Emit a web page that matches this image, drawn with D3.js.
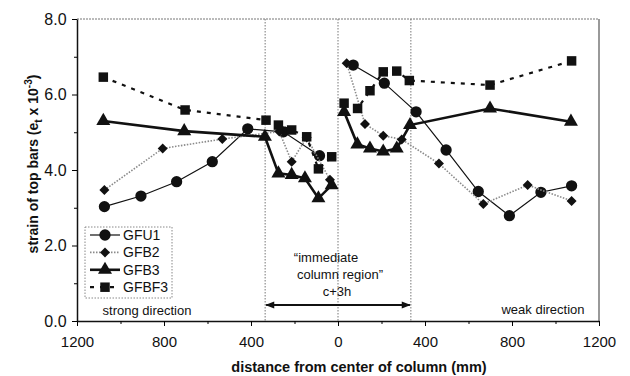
<!DOCTYPE html>
<html>
<head>
<meta charset="utf-8">
<script src="https://cdn.jsdelivr.net/npm/d3@7"></script>
<style>
  body { margin: 0; background: #fff; }
  text { font-family: Arial, "Liberation Sans", sans-serif; fill: #111; }
</style>
</head>
<body>
<svg width="630" height="376"></svg>
<script>
// distance from column centre (mm): negative = strong direction, positive = weak direction
var gfu1X = [-1074, -906, -742, -578, -415, -251, -85, 70, 213, 359, 497, 645, 788, 933, 1074];
var gfu1Y = [3.03, 3.31, 3.69, 4.22, 5.09, 5.01, 4.38, 6.78, 6.30, 5.54, 4.53, 3.43, 2.79, 3.41, 3.58];

var gfb2X = [-1074, -806, -532, -270, -213, -144, -37, 40, 124, 208, 293, 464, 668, 872, 1074];
var gfb2Y = [3.47, 4.57, 4.82, 5.02, 4.22, 4.86, 3.74, 6.83, 5.22, 4.91, 4.81, 4.17, 3.10, 3.60, 3.18];

var gfb3X = [-1079, -707, -336, -274, -213, -152, -90, -29, 28, 89, 147, 208, 270, 331, 699, 1071];
var gfb3Y = [5.30, 5.03, 4.88, 3.91, 3.87, 3.78, 3.25, 3.60, 5.54, 4.68, 4.57, 4.49, 4.57, 5.19, 5.63, 5.28];

var gfbf3X = [-1079, -703, -331, -274, -213, -144, -90, -29, 28, 90, 147, 208, 270, 328, 699, 1074];
var gfbf3Y = [6.46, 5.59, 5.32, 5.19, 5.06, 4.88, 4.03, 4.35, 5.77, 5.63, 6.10, 6.60, 6.62, 6.37, 6.25, 6.89];

var seriesNames = ["GFU1", "GFB2", "GFB3", "GFBF3"];
var xMajor = [-1200, -800, -400, 0, 400, 800, 1200];
var xMinor = [-1000, -600, -200, 200, 600, 1000];
var yMajor = [0, 2, 4, 6, 8];
var yMinor = [1, 3, 5, 7];
var regionEdges = [-335, 0, 335];

var svg = d3.select("svg");
var pL = 77, pR = 599, pT = 19, pB = 321;

var x = d3.scaleLinear().domain([-1200, 1200]).range([pL, pR]);
var y = d3.scaleLinear().domain([0, 8]).range([pB, pT]);

// frame
svg.append("line").attr("x1", pL).attr("x2", pR).attr("y1", pT).attr("y2", pT)
  .attr("stroke", "#777").attr("stroke-dasharray", "2,1");
svg.append("line").attr("x1", pR).attr("x2", pR).attr("y1", pT).attr("y2", pB)
  .attr("stroke", "#555").attr("stroke-width", 1.2);

// region lines
svg.selectAll(".region").data(regionEdges).enter().append("line")
  .attr("x1", function(d) { return x(d); }).attr("x2", function(d) { return x(d); })
  .attr("y1", pT).attr("y2", pB)
  .attr("stroke", "#777").attr("stroke-dasharray", "1.5,1.5");

// axes
var xAxis = svg.append("g").attr("transform", "translate(0," + pB + ")")
  .call(d3.axisBottom(x).tickValues(xMajor).tickFormat(function(d) { return Math.abs(d); }).tickSize(5).tickSizeOuter(0));
svg.append("g").attr("transform", "translate(0," + pB + ")")
  .call(d3.axisBottom(x).tickValues(xMinor).tickFormat("").tickSize(3).tickSizeOuter(0))
  .select(".domain").remove();
var yAxis = svg.append("g").attr("transform", "translate(" + pL + ",0)")
  .call(d3.axisLeft(y).tickValues(yMajor).tickFormat(d3.format(".1f")).tickSize(5).tickSizeOuter(0));
svg.append("g").attr("transform", "translate(" + pL + ",0)")
  .call(d3.axisLeft(y).tickValues(yMinor).tickFormat("").tickSize(3).tickSizeOuter(0))
  .select(".domain").remove();

svg.selectAll(".domain").attr("stroke", "#111").attr("stroke-width", 1.5);
xAxis.selectAll("text").attr("font-size", 15).attr("dy", "1.2em").style("font-family", "Arial, 'Liberation Sans', sans-serif");
yAxis.selectAll("text").attr("font-size", 16).attr("dx", "-0.15em").style("font-family", "Arial, 'Liberation Sans', sans-serif");

// axis titles
svg.append("text").attr("x", 359).attr("y", 372).attr("text-anchor", "middle")
  .attr("font-size", 14.5).attr("font-weight", "bold").text("distance from center of column (mm)");
var yt = svg.append("text").attr("transform", "translate(38,164) rotate(-90)")
  .attr("text-anchor", "middle").attr("font-size", 14).attr("font-weight", "bold");
yt.append("tspan").text("strain of top bars (e");
yt.append("tspan").attr("font-size", 10).attr("dy", 4).text("t");
yt.append("tspan").attr("dy", -4).text(" x 10");
yt.append("tspan").attr("font-size", 10).attr("dy", -6).text("-3");
yt.append("tspan").attr("dy", 6).text(")");

// series styles (rot = marker rotation in degrees)
var styles = {
  GFU1: { xs: gfu1X, ys: gfu1Y, stroke: "#111", width: 1.2, dash: null, sym: d3.symbolCircle, size: 100, rot: 0 },
  GFB2: { xs: gfb2X, ys: gfb2Y, stroke: "#8a8a8a", width: 1.6, dash: "1.5,1.5", sym: d3.symbolSquare, size: 50, rot: 45 },
  GFB3: { xs: gfb3X, ys: gfb3Y, stroke: "#111", width: 2.6, dash: null, sym: d3.symbolTriangle, size: 85, rot: 0 },
  GFBF3: { xs: gfbf3X, ys: gfbf3Y, stroke: "#111", width: 2.2, dash: "4,6", sym: d3.symbolSquare, size: 90, rot: 0 }
};

var line = d3.line().x(function(d) { return x(d[0]); }).y(function(d) { return y(d[1]); });

seriesNames.forEach(function(name) {
  var s = styles[name];
  var pts = s.xs.map(function(d, i) { return [d, s.ys[i]]; });
  var strong = pts.filter(function(p) { return p[0] < 0; });
  var weak = pts.filter(function(p) { return p[0] > 0; });
  [strong, weak].forEach(function(seg) {
    svg.append("path").datum(seg).attr("d", line)
      .attr("fill", "none").attr("stroke", s.stroke).attr("stroke-width", s.width)
      .attr("stroke-dasharray", s.dash);
  });
  svg.append("g").selectAll("path").data(pts).enter().append("path")
    .attr("transform", function(d) { return "translate(" + x(d[0]) + "," + y(d[1]) + ") rotate(" + s.rot + ")"; })
    .attr("d", d3.symbol().type(s.sym).size(s.size))
    .attr("fill", "#111");
});

// annotations
svg.append("text").attr("x", 326).attr("y", 262).attr("text-anchor", "middle").attr("font-size", 13).text("\u201Cimmediate");
svg.append("text").attr("x", 340).attr("y", 279).attr("text-anchor", "middle").attr("font-size", 13).text("column region\u201D");
svg.append("text").attr("x", 337).attr("y", 296).attr("text-anchor", "middle").attr("font-size", 13).text("c+3h");

var defs = svg.append("defs");
defs.append("marker").attr("id", "arr").attr("viewBox", "0 0 10 10").attr("refX", 9).attr("refY", 5)
  .attr("markerWidth", 7).attr("markerHeight", 5).attr("orient", "auto-start-reverse")
  .append("path").attr("d", "M0,1L10,5L0,9Z").attr("fill", "#111");
svg.append("line").attr("x1", x(regionEdges[0]) + 1).attr("x2", x(regionEdges[2]) - 1)
  .attr("y1", 305).attr("y2", 305).attr("stroke", "#111").attr("stroke-width", 1.8)
  .attr("marker-start", "url(#arr)").attr("marker-end", "url(#arr)");

svg.append("text").attr("x", 147).attr("y", 315).attr("text-anchor", "middle").attr("font-size", 13).text("strong direction");
svg.append("text").attr("x", 543).attr("y", 314).attr("text-anchor", "middle").attr("font-size", 13).text("weak direction");

// legend
var lg = svg.append("g");
lg.append("rect").attr("x", 85).attr("y", 227).attr("width", 87).attr("height", 71)
  .attr("fill", "#fff").attr("stroke", "#888").attr("stroke-dasharray", "1.5,1.5");
seriesNames.forEach(function(name, i) {
  var s = styles[name], ly = 235 + i * 17.4;
  lg.append("line").attr("x1", 90).attr("x2", 120).attr("y1", ly).attr("y2", ly)
    .attr("stroke", s.stroke).attr("stroke-width", s.width).attr("stroke-dasharray", s.dash);
  lg.append("path").attr("transform", "translate(105," + ly + ") rotate(" + s.rot + ")")
    .attr("d", d3.symbol().type(s.sym).size(s.size)).attr("fill", "#111");
  lg.append("text").attr("x", 123).attr("y", ly + 5).attr("font-size", 14).text(name);
});
</script>
</body>
</html>
